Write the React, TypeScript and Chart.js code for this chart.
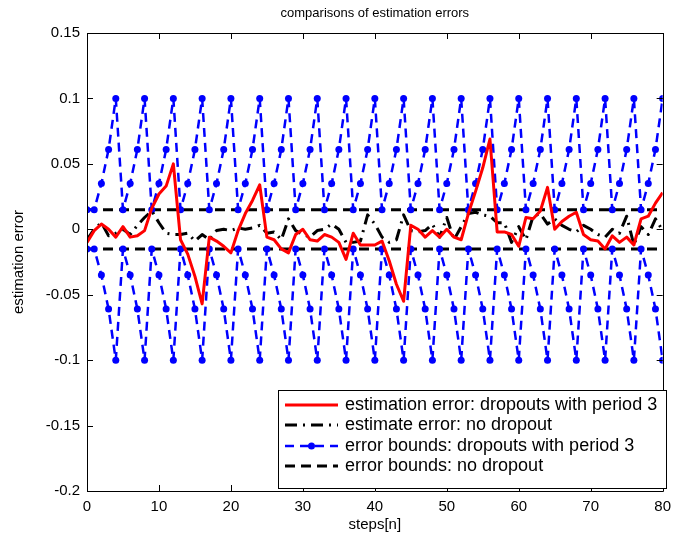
import React, { useEffect, useRef } from "react";
import { Chart, registerables } from "chart.js";
Chart.register(...registerables);

const steps: number[] = Array.from({ length: 81 }, (_, i) => i);

const errDropout: number[] = [
  -0.010, -0.001, 0.004, 0.000, -0.006, 0.002, -0.006, -0.005, -0.001, 0.016,
  0.027, 0.033, 0.050, -0.008, -0.019, -0.036, -0.057, -0.006, -0.009, -0.013,
  -0.018, -0.001, 0.012, 0.022, 0.034, -0.006, -0.008, -0.015, -0.018, -0.004,
  0.000, -0.008, -0.009, -0.004, -0.006, -0.010, -0.023, -0.003, -0.012, -0.012,
  -0.012, -0.009, -0.024, -0.042, -0.055, 0.003, 0.000, -0.006, -0.001, -0.006,
  0.000, -0.006, -0.008, 0.012, 0.029, 0.047, 0.069, -0.002, -0.002, -0.004,
  -0.013, 0.009, 0.008, 0.014, 0.032, 0.000, 0.006, 0.010, 0.013, -0.004,
  -0.008, -0.009, -0.015, -0.005, -0.010, -0.006, -0.012, 0.008, 0.010, 0.020,
  0.028,
];

const errNoDropout: number[] = [
  -0.008, 0.000, 0.005, -0.005, -0.003, 0.000, -0.004, 0.003, 0.009, 0.014,
  0.005, -0.003, -0.004, -0.004, -0.003, -0.009, -0.004, -0.008, -0.001, 0.000,
  -0.001, 0.001, 0.000, 0.001, 0.003, -0.003, -0.002, -0.008, 0.008, -0.001,
  -0.004, -0.006, -0.001, 0.000, 0.004, 0.000, -0.010, -0.010, -0.009, 0.011,
  0.004, -0.006, -0.010, -0.008, 0.011, -0.001, -0.002, -0.001, 0.004, -0.006,
  0.009, -0.008, 0.002, 0.012, 0.013, 0.011, 0.010, 0.005, 0.005, -0.010,
  0.002, -0.008, 0.010, 0.012, 0.004, 0.008, 0.003, 0.000, -0.002, 0.003,
  0.000, -0.004, -0.006, 0.000, -0.003, 0.010, -0.012, 0.002, -0.004, 0.008,
  -0.001,
];

const boundUpperDropout: number[] = [
  0.015,
  0.015, 0.035, 0.061, 0.1, 0.015, 0.035, 0.061, 0.1, 0.015, 0.035, 0.061, 0.1,
  0.015, 0.035, 0.061, 0.1, 0.015, 0.035, 0.061, 0.1, 0.015, 0.035, 0.061, 0.1,
  0.015, 0.035, 0.061, 0.1, 0.015, 0.035, 0.061, 0.1, 0.015, 0.035, 0.061, 0.1,
  0.015, 0.035, 0.061, 0.1, 0.015, 0.035, 0.061, 0.1, 0.015, 0.035, 0.061, 0.1,
  0.015, 0.035, 0.061, 0.1, 0.015, 0.035, 0.061, 0.1, 0.015, 0.035, 0.061, 0.1,
  0.015, 0.035, 0.061, 0.1, 0.015, 0.035, 0.061, 0.1, 0.015, 0.035, 0.061, 0.1,
  0.015, 0.035, 0.061, 0.1, 0.015, 0.035, 0.061, 0.1,
];

const boundLowerDropout: number[] = [
  -0.015,
  -0.015, -0.035, -0.061, -0.1, -0.015, -0.035, -0.061, -0.1, -0.015, -0.035, -0.061, -0.1,
  -0.015, -0.035, -0.061, -0.1, -0.015, -0.035, -0.061, -0.1, -0.015, -0.035, -0.061, -0.1,
  -0.015, -0.035, -0.061, -0.1, -0.015, -0.035, -0.061, -0.1, -0.015, -0.035, -0.061, -0.1,
  -0.015, -0.035, -0.061, -0.1, -0.015, -0.035, -0.061, -0.1, -0.015, -0.035, -0.061, -0.1,
  -0.015, -0.035, -0.061, -0.1, -0.015, -0.035, -0.061, -0.1, -0.015, -0.035, -0.061, -0.1,
  -0.015, -0.035, -0.061, -0.1, -0.015, -0.035, -0.061, -0.1, -0.015, -0.035, -0.061, -0.1,
  -0.015, -0.035, -0.061, -0.1, -0.015, -0.035, -0.061, -0.1,
];

const boundNoDropoutX: number[] = [0, 80];
const boundUpperNoDropout: number[] = [0.015, 0.015];
const boundLowerNoDropout: number[] = [-0.015, -0.015];

const xTickValues: number[] = [0, 10, 20, 30, 40, 50, 60, 70, 80];
const yTickValues: number[] = [-0.2, -0.15, -0.1, -0.05, 0, 0.05, 0.1, 0.15];
const yTickLabels: string[] = ["-0.2", "-0.15", "-0.1", "-0.05", "0", "0.05", "0.1", "0.15"];

const titleText = "comparisons of estimation errors";
const xLabelText = "steps[n]";
const yLabelText = "estimation error";
const legendLabels: string[] = [
  "estimation error: dropouts with period 3",
  "estimate error: no dropout",
  "error bounds: dropouts with period 3",
  "error bounds: no dropout",
];

const FONT = "'Liberation Sans', Arial, sans-serif";
const RED = "#ff0000";
const BLUE = "#0000ff";
const BLACK = "#000000";

const toPoints = (xs: number[], ys: number[]) => ys.map((y, i) => ({ x: xs[i], y }));

const framePlugin = {
  id: "matlabFrame",
  afterDraw(chart: any) {
    const { ctx, chartArea } = chart;
    const { left, right, top, bottom } = chartArea;
    const xs = chart.scales.x;
    const ys = chart.scales.y;
    ctx.save();
    ctx.strokeStyle = "#000";
    ctx.lineWidth = 1;
    ctx.setLineDash([]);
    ctx.beginPath();
    ctx.rect(Math.round(left) + 0.5, Math.round(top) + 0.5, Math.round(right - left), Math.round(bottom - top));
    ctx.stroke();
    const tl = 6;
    ctx.beginPath();
    xTickValues.forEach((v) => {
      const px = Math.round(xs.getPixelForValue(v)) + 0.5;
      ctx.moveTo(px, bottom);
      ctx.lineTo(px, bottom - tl);
      ctx.moveTo(px, top);
      ctx.lineTo(px, top + tl);
    });
    yTickValues.forEach((v) => {
      const py = Math.round(ys.getPixelForValue(v)) + 0.5;
      ctx.moveTo(left, py);
      ctx.lineTo(left + tl, py);
      ctx.moveTo(right, py);
      ctx.lineTo(right - tl, py);
    });
    ctx.stroke();

    ctx.fillStyle = "#000";
    ctx.textAlign = "center";
    ctx.textBaseline = "middle";
    ctx.font = `13px ${FONT}`;
    ctx.fillText(titleText, (left + right) / 2, 13);
    ctx.font = `15px ${FONT}`;
    ctx.fillText(xLabelText, (left + right) / 2, 525);
    ctx.save();
    ctx.translate(19, (top + bottom) / 2);
    ctx.rotate(-Math.PI / 2);
    ctx.fillText(yLabelText, 0, 0);
    ctx.restore();

    const lx = 278, ly = 390, lw = 388, lh = 98;
    ctx.fillStyle = "#fff";
    ctx.fillRect(lx, ly, lw, lh);
    ctx.strokeStyle = "#000";
    ctx.lineWidth = 1;
    ctx.strokeRect(lx + 0.5, ly + 0.5, lw, lh);
    const rowY = [405, 425, 446, 466];
    const sx0 = 285, sx1 = 338;
    ctx.lineCap = "butt";
    ctx.strokeStyle = RED; ctx.lineWidth = 3; ctx.setLineDash([]);
    ctx.beginPath(); ctx.moveTo(sx0, rowY[0]); ctx.lineTo(sx1, rowY[0]); ctx.stroke();
    ctx.strokeStyle = BLACK; ctx.lineWidth = 3; ctx.setLineDash([12, 6, 2, 6]);
    ctx.beginPath(); ctx.moveTo(sx0, rowY[1]); ctx.lineTo(sx1, rowY[1]); ctx.stroke();
    ctx.strokeStyle = BLUE; ctx.lineWidth = 2.5; ctx.setLineDash([9, 6]);
    ctx.beginPath(); ctx.moveTo(sx0, rowY[2]); ctx.lineTo(sx1, rowY[2]); ctx.stroke();
    ctx.setLineDash([]);
    ctx.fillStyle = BLUE;
    ctx.beginPath(); ctx.arc((sx0 + sx1) / 2, rowY[2], 3.5, 0, Math.PI * 2); ctx.fill();
    ctx.strokeStyle = BLACK; ctx.lineWidth = 3; ctx.setLineDash([10, 6]);
    ctx.beginPath(); ctx.moveTo(sx0, rowY[3]); ctx.lineTo(sx1, rowY[3]); ctx.stroke();
    ctx.setLineDash([]);
    ctx.fillStyle = "#000";
    ctx.textAlign = "left";
    ctx.textBaseline = "middle";
    ctx.font = `18px ${FONT}`;
    legendLabels.forEach((t, i) => ctx.fillText(t, 345, rowY[i]));
    ctx.restore();
  },
};

export default function App() {
  const ref = useRef<HTMLCanvasElement | null>(null);
  useEffect(() => {
    if (!ref.current) return;
    const chart = new Chart(ref.current, {
      type: "line",
      data: {
        datasets: [
          {
            label: legendLabels[0],
            data: toPoints(steps, errDropout),
            borderColor: RED,
            borderWidth: 3,
            borderJoinStyle: "round",
            pointRadius: 0,
            tension: 0,
          },
          {
            label: legendLabels[1],
            data: toPoints(steps, errNoDropout),
            borderColor: BLACK,
            borderWidth: 3,
            borderDash: [12, 6, 2, 6],
            borderJoinStyle: "round",
            pointRadius: 0,
            tension: 0,
          },
          {
            label: legendLabels[2],
            data: toPoints(steps, boundUpperDropout),
            borderColor: BLUE,
            borderWidth: 2.5,
            borderDash: [9, 6],
            borderJoinStyle: "round",
            pointRadius: 3.5,
            pointBackgroundColor: BLUE,
            pointBorderWidth: 0,
            tension: 0,
          },
          {
            label: legendLabels[2] + " (lower)",
            data: toPoints(steps, boundLowerDropout),
            borderColor: BLUE,
            borderWidth: 2.5,
            borderDash: [9, 6],
            borderJoinStyle: "round",
            pointRadius: 3.5,
            pointBackgroundColor: BLUE,
            pointBorderWidth: 0,
            tension: 0,
          },
          {
            label: legendLabels[3],
            data: toPoints(boundNoDropoutX, boundUpperNoDropout),
            borderColor: BLACK,
            borderWidth: 3,
            borderDash: [10, 6],
            pointRadius: 0,
          },
          {
            label: legendLabels[3] + " (lower)",
            data: toPoints(boundNoDropoutX, boundLowerNoDropout),
            borderColor: BLACK,
            borderWidth: 3,
            borderDash: [10, 6],
            pointRadius: 0,
          },
        ],
      },
      options: {
        animation: false,
        responsive: false,
        maintainAspectRatio: false,
        layout: { padding: { top: 33, right: 10, left: 0, bottom: 0 } },
        plugins: {
          legend: { display: false },
          tooltip: { enabled: false },
          title: { display: false },
        },
        scales: {
          x: {
            type: "linear",
            min: 0,
            max: 80,
            afterBuildTicks: (s: any) => {
              s.ticks = xTickValues.map((v) => ({ value: v }));
            },
            afterFit: (s: any) => {
              s.height = 50;
            },
            grid: { display: false, drawTicks: false },
            border: { display: false },
            ticks: {
              padding: 7,
              color: "#000",
              font: { family: FONT, size: 15 },
              maxRotation: 0,
              autoSkip: false,
              callback: (v: any) => String(v),
            },
          },
          y: {
            type: "linear",
            min: -0.2,
            max: 0.15,
            afterBuildTicks: (s: any) => {
              s.ticks = yTickValues.map((v) => ({ value: v }));
            },
            afterFit: (s: any) => {
              s.width = 87;
            },
            grid: { display: false, drawTicks: false },
            border: { display: false },
            ticks: {
              padding: 7,
              color: "#000",
              font: { family: FONT, size: 15 },
              autoSkip: false,
              callback: (v: any) => {
                const idx = yTickValues.findIndex((t) => Math.abs(t - v) < 1e-9);
                return idx >= 0 ? yTickLabels[idx] : "";
              },
            },
          },
        },
      },
      plugins: [framePlugin],
    });
    return () => chart.destroy();
  }, []);
  return (
    <div style={{ position: "fixed", left: 0, top: 0, width: 678, height: 541, background: "#fff" }}>
      <canvas ref={ref} width={678} height={541} style={{ display: "block" }} />
    </div>
  );
}
